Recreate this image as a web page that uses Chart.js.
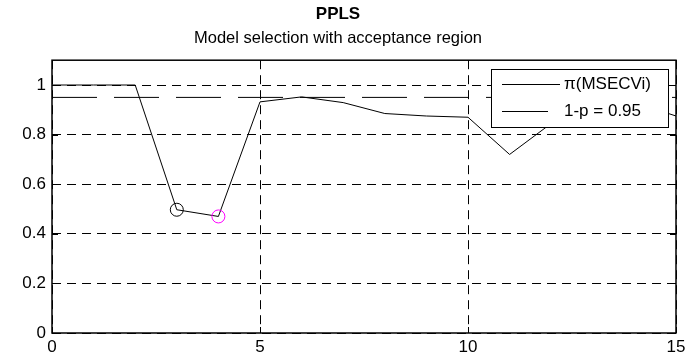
<!DOCTYPE html>
<html>
<head>
<meta charset="utf-8">
<script src="https://cdn.jsdelivr.net/npm/chart.js@4/dist/chart.umd.min.js"></script>
<style>
  html, body { margin: 0; padding: 0; background: #fff; }
  #wrap { width: 692px; height: 357px; }
</style>
</head>
<body>
<div id="wrap"><canvas id="pplsChart" width="692" height="357"></canvas></div>
<script>
const components = [0, 1, 2, 3, 4, 5, 6, 7, 8, 9, 10, 11, 12, 13, 14, 15];
const piMsecv = [1, 1, 1, 0.497, 0.47, 0.932, 0.952, 0.929, 0.885, 0.875, 0.87, 0.72, 0.845, 0.87, 0.93, 0.875];
const acceptance = 0.95;
const markedIdx = [3, 4];
const markColors = ['#000000', '#ff00ff'];
const xTicks = [0, 5, 10, 15];
const yTicks = [0, 0.2, 0.4, 0.6, 0.8, 1];
const seriesLabels = ['\u03c0(MSECVi)', '1-p = 0.95'];

const fontFamily = '"Liberation Sans", Arial, Helvetica, sans-serif';

// MATLAB style box + inward ticks
const axesBox = {
    id: 'axesBox',
    afterDatasetsDraw(chart) {
        const { ctx, chartArea: a, scales } = chart;
        ctx.save();
        ctx.strokeStyle = '#000';
        ctx.lineWidth = 1;
        ctx.beginPath();
        xTicks.forEach(v => {
            const x = Math.round(scales.x.getPixelForValue(v)) + 0.5;
            ctx.moveTo(x, a.bottom); ctx.lineTo(x, a.bottom - 6);
            ctx.moveTo(x, a.top); ctx.lineTo(x, a.top + 6);
        });
        yTicks.forEach(v => {
            const y = Math.round(scales.y.getPixelForValue(v)) + 0.5;
            ctx.moveTo(a.left, y); ctx.lineTo(a.left + 6, y);
            ctx.moveTo(a.right, y); ctx.lineTo(a.right - 6, y);
        });
        ctx.stroke();
        ctx.lineWidth = 1.5;
        ctx.strokeRect(a.left, a.top, a.right - a.left, a.bottom - a.top);
        ctx.restore();
    }
};

// legend box inside the axes, top right
const boxLegend = {
    id: 'boxLegend',
    afterDatasetsDraw(chart) {
        const { ctx, chartArea: a } = chart;
        const w = 177, h = 58;
        const x0 = a.right - 8 - w, y0 = a.top + 9;
        ctx.save();
        ctx.fillStyle = '#fff';
        ctx.fillRect(x0, y0, w, h);
        ctx.strokeStyle = '#000';
        ctx.lineWidth = 1;
        ctx.strokeRect(Math.round(x0) + 0.5, Math.round(y0) + 0.5, w, h);
        ctx.font = '17px ' + fontFamily;
        ctx.fillStyle = '#000';
        ctx.textBaseline = 'middle';
        const lineEnds = [69, 57];
        chart.data.datasets.forEach((ds, i) => {
            const y = Math.round(y0 + 15 + i * 27) + 0.5;
            ctx.beginPath();
            ctx.moveTo(x0 + 11, y);
            ctx.lineTo(x0 + lineEnds[i], y);
            ctx.stroke();
            ctx.fillText(ds.label, x0 + 73, y);
        });
        ctx.restore();
    }
};

const ctx = document.getElementById('pplsChart').getContext('2d');
new Chart(ctx, {
    type: 'line',
    data: {
        datasets: [
            {
                label: seriesLabels[0],
                data: components.map((c, i) => ({ x: c, y: piMsecv[i] })),
                borderColor: '#000',
                borderWidth: 1,
                tension: 0,
                pointRadius: components.map((c, i) => markedIdx.includes(i) ? 6.5 : 0),
                pointBorderColor: components.map((c, i) => {
                    const k = markedIdx.indexOf(i);
                    return k >= 0 ? markColors[k] : '#000';
                }),
                pointBackgroundColor: 'rgba(0,0,0,0)',
                pointBorderWidth: 1
            },
            {
                label: seriesLabels[1],
                data: [{ x: components[0], y: acceptance }, { x: components[components.length - 1], y: acceptance }],
                borderColor: '#000',
                borderWidth: 1,
                borderDash: [45, 17],
                pointRadius: 0
            }
        ]
    },
    options: {
        responsive: false,
        animation: false,
        events: [],
        layout: { padding: { top: 0, right: 16, left: 0, bottom: 0 } },
        plugins: {
            legend: { display: false },
            tooltip: { enabled: false },
            title: {
                display: true,
                text: 'PPLS',
                color: '#000',
                font: { family: fontFamily, size: 17, weight: 'bold' },
                padding: { top: 4, bottom: 0 }
            },
            subtitle: {
                display: true,
                text: 'Model selection with acceptance region',
                color: '#000',
                font: { family: fontFamily, size: 16.5 },
                padding: { top: 4, bottom: 12 }
            }
        },
        scales: {
            x: {
                type: 'linear',
                min: 0,
                max: 15,
                afterBuildTicks: s => { s.ticks = xTicks.map(v => ({ value: v })); },
                afterFit: s => { s.height = 24; },
                grid: { color: '#000', lineWidth: 1, drawTicks: false },
                border: { display: false, dash: [9, 6] },
                ticks: { color: '#000', padding: 4, font: { family: fontFamily, size: 17 },
                    callback: v => String(v) }
            },
            y: {
                type: 'linear',
                min: 0,
                max: 1.1,
                afterBuildTicks: s => { s.ticks = yTicks.map(v => ({ value: v })); },
                afterFit: s => { s.width = 52; },
                grid: { color: '#000', lineWidth: 1, drawTicks: false },
                border: { display: false, dash: [9, 6] },
                ticks: { color: '#000', padding: 6, font: { family: fontFamily, size: 17 },
                    callback: v => String(v) }
            }
        }
    },
    plugins: [axesBox, boxLegend]
});
</script>
</body>
</html>
